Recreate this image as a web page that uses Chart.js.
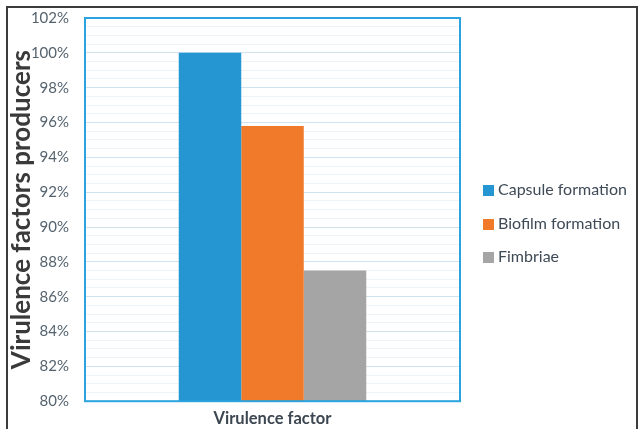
<!DOCTYPE html>
<html>
<head>
<meta charset="utf-8">
<script src="https://cdn.jsdelivr.net/npm/chart.js@4/dist/chart.umd.min.js"></script>
<style>
  html, body { margin: 0; padding: 0; background: #fff; }
  #wrap { position: relative; width: 642px; height: 429px; overflow: hidden; }
  #frame { position: absolute; left: 6px; top: 6px; width: 628px; height: 440px; border: 2px solid #3c3c3c; }
  canvas { position: absolute; left: 0; top: 0; }
  #legend { position: absolute; left: 483px; top: 178px; font-family: Lato, sans-serif; font-size: 16px; color: #3e4a56; }
  #legend .item { height: 33.5px; line-height: 22px; white-space: nowrap; }
  #legend .box { display: inline-block; width: 11px; height: 11px; margin-right: 4px; vertical-align: -1px; }
</style>
</head>
<body>
<div id="wrap">
  <div id="frame"></div>
  <canvas id="chart" width="642" height="429"></canvas>
  <div id="legend"></div>
</div>
<script>
// chart values
var categories = ['Virulence factor'];
var seriesNames = ['Capsule formation', 'Biofilm formation', 'Fimbriae'];
var capsule = [100];
var biofilm = [95.8];
var fimbriae = [87.5];
var yMin = 80, yMax = 102, yStep = 0.5;

var colors = ['#2596d1', '#f07a2a', '#a5a5a5'];

// blue frame round the plot area
var plotFrame = {
  id: 'plotFrame',
  afterDraw: function (chart) {
    var a = chart.chartArea, ctx = chart.ctx;
    ctx.save();
    ctx.strokeStyle = '#2aa3df';
    ctx.lineWidth = 2;
    ctx.strokeRect(a.left, a.top, a.right - a.left, a.bottom - a.top);
    ctx.restore();
  }
};

// legend written as html next to the plot
var htmlLegend = {
  id: 'htmlLegend',
  afterUpdate: function (chart) {
    var box = document.getElementById('legend');
    box.innerHTML = '';
    var items = chart.options.plugins.legend.labels.generateLabels(chart);
    items.forEach(function (it) {
      var row = document.createElement('div');
      row.className = 'item';
      var sw = document.createElement('span');
      sw.className = 'box';
      sw.style.background = it.fillStyle;
      row.appendChild(sw);
      row.appendChild(document.createTextNode(it.text));
      box.appendChild(row);
    });
  }
};

var ctx = document.getElementById('chart').getContext('2d');
var chart = new Chart(ctx, {
  type: 'bar',
  data: {
    labels: categories,
    datasets: [
      { label: seriesNames[0], data: capsule, backgroundColor: colors[0] },
      { label: seriesNames[1], data: biofilm, backgroundColor: colors[1] },
      { label: seriesNames[2], data: fimbriae, backgroundColor: colors[2] }
    ]
  },
  options: {
    responsive: false,
    devicePixelRatio: 1,
    animation: false,
    categoryPercentage: 0.5,
    barPercentage: 1,
    layout: { padding: { left: 11, top: 0, right: 182, bottom: 0 } },
    plugins: {
      tooltip: { enabled: false },
      legend: { display: false }
    },
    scales: {
      x: {
        grid: { display: false },
        border: { display: false },
        ticks: { display: false },
        title: {
          display: true,
          text: 'Virulence factor',
          color: '#3c4650',
          font: { family: 'Lato', size: 16.5, weight: 'bold' },
          padding: { top: 0, bottom: 0 }
        }
      },
      y: {
        min: yMin,
        max: yMax,
        border: { display: false },
        afterFit: function (s) {
          s.width = 74;
          s.paddingTop = 18;
          s.paddingBottom = 9;
        },
        grid: {
          color: function (c) {
            var v = c.tick.value;
            return Math.abs(v % 2) < 1e-6 ? '#cfe3ef' : '#eef3f7';
          },
          drawTicks: false
        },
        ticks: {
          stepSize: yStep,
          autoSkip: false,
          padding: 16,
          color: '#55636f',
          font: { family: 'Lato', size: 15 },
          callback: function (v) {
            return Math.abs(v % 2) < 1e-6 ? v + '%' : '';
          }
        },
        title: {
          display: true,
          text: 'Virulence factors producers',
          color: '#3a3a3a',
          font: { family: 'Lato', size: 26, weight: 'bold', lineHeight: 0.8 },
          padding: { top: 0, bottom: 0 }
        }
      }
    }
  },
  plugins: [plotFrame, htmlLegend]
});
</script>
</body>
</html>
